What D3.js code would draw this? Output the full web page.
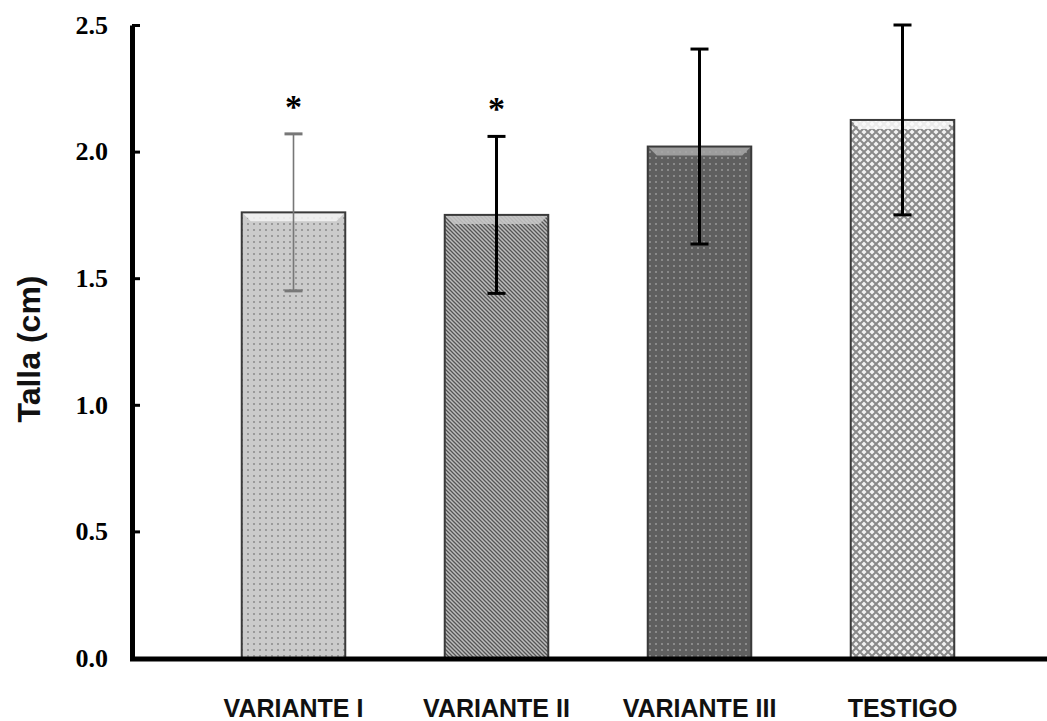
<!DOCTYPE html>
<html>
<head>
<meta charset="utf-8">
<script src="https://cdn.jsdelivr.net/npm/d3@7"></script>
<style>
  body { margin: 0; background: #fff; }
</style>
</head>
<body>
<div id="chart"></div>
<script>
// data
var categories = ['VARIANTE I', 'VARIANTE II', 'VARIANTE III', 'TESTIGO']
var means = [1.76, 1.75, 2.02, 2.125]
var errors = [0.31, 0.31, 0.385, 0.375]
var marks = ['*', '*', '', '']
var yTicks = [0, 0.5, 1.0, 1.5, 2.0, 2.5]

var svgWidth = 1047
var svgHeight = 721

var svg = d3.select('#chart')
  .append('svg')
  .attr('width', svgWidth)
  .attr('height', svgHeight)

var defs = svg.append('defs')

// fill patterns, one per bar
function dotPattern (id, bg, dot, size, r) {
  var p = defs.append('pattern')
    .attr('id', id)
    .attr('patternUnits', 'userSpaceOnUse')
    .attr('width', size)
    .attr('height', size)
  p.append('rect').attr('width', size).attr('height', size).attr('fill', bg)
  p.append('rect').attr('x', 1).attr('y', 1).attr('width', r).attr('height', r).attr('fill', dot)
}
dotPattern('pat0', '#cbcbcb', '#9a9a9a', 6, 2)
dotPattern('pat2', '#5f5f5f', '#8a8a8a', 6, 2)

var hatch = defs.append('pattern')
  .attr('id', 'pat1')
  .attr('patternUnits', 'userSpaceOnUse')
  .attr('width', 4)
  .attr('height', 4)
hatch.append('rect').attr('width', 4).attr('height', 4).attr('fill', '#bdbdbd')
hatch.append('path').attr('d', 'M-1,1 L1,-1 M0,4 L4,0 M3,5 L5,3')
  .attr('stroke', '#555').attr('stroke-width', 1.3)
  .attr('transform', 'scale(-1,1) translate(-4,0)')

var cross = defs.append('pattern')
  .attr('id', 'pat3')
  .attr('patternUnits', 'userSpaceOnUse')
  .attr('width', 8)
  .attr('height', 8)
cross.append('rect').attr('width', 8).attr('height', 8).attr('fill', '#f2f2f2')
cross.append('path').attr('d', 'M0,0 L8,8 M8,0 L0,8')
  .attr('stroke', '#8a8a8a').attr('stroke-width', 2)

var fills = ['url(#pat0)', 'url(#pat1)', 'url(#pat2)', 'url(#pat3)']
var bevels = ['#f4f4f4', '#c8c8c8', '#a8a8a8', '#fafafa']

var xScale = d3.scaleBand()
  .domain(categories)
  .range([192, 1004])
  .paddingInner(0.49)
  .paddingOuter(0.245)

var yScale = d3.scaleLinear()
  .domain([0, 2.5])
  .range([658, 25])

var data = categories.map(function (c, i) {
  return { cat: c, mean: means[i], err: errors[i], mark: marks[i], i: i }
})

// bars
var bars = svg.append('g').selectAll('g.bar')
  .data(data)
  .enter()
  .append('g')
  .attr('class', 'bar')

bars.append('rect')
  .attr('x', d => xScale(d.cat))
  .attr('y', d => yScale(d.mean))
  .attr('width', xScale.bandwidth())
  .attr('height', d => yScale(0) - yScale(d.mean))
  .attr('fill', d => fills[d.i])

// light bevel at the top of each bar
bars.append('path')
  .attr('d', function (d) {
    var x0 = xScale(d.cat), x1 = x0 + xScale.bandwidth(), y0 = yScale(d.mean)
    return 'M' + x0 + ',' + y0 + 'L' + x1 + ',' + y0 + 'L' + (x1 - 9) + ',' + (y0 + 9) + 'L' + (x0 + 9) + ',' + (y0 + 9) + 'Z'
  })
  .attr('fill', d => bevels[d.i])
  .attr('opacity', 0.85)

bars.append('rect')
  .attr('x', d => xScale(d.cat))
  .attr('y', d => yScale(d.mean))
  .attr('width', xScale.bandwidth())
  .attr('height', d => yScale(0) - yScale(d.mean))
  .attr('fill', 'none')
  .attr('stroke', '#3a3a3a')
  .attr('stroke-width', 2)

// error bars
var eb = svg.append('g').selectAll('g.err')
  .data(data)
  .enter()
  .append('g')
  .attr('stroke', d => d.i === 0 ? '#777' : '#000')
  .attr('stroke-width', d => d.i === 0 ? 1.6 : 3)

eb.append('line')
  .attr('x1', d => xScale(d.cat) + xScale.bandwidth() / 2)
  .attr('x2', d => xScale(d.cat) + xScale.bandwidth() / 2)
  .attr('y1', d => yScale(d.mean + d.err))
  .attr('y2', d => yScale(d.mean - d.err))

eb.append('line')
  .attr('x1', d => xScale(d.cat) + xScale.bandwidth() / 2 - 9)
  .attr('x2', d => xScale(d.cat) + xScale.bandwidth() / 2 + 9)
  .attr('y1', d => yScale(d.mean + d.err))
  .attr('y2', d => yScale(d.mean + d.err))
  .attr('stroke-width', 3)

eb.append('line')
  .attr('x1', d => xScale(d.cat) + xScale.bandwidth() / 2 - 9)
  .attr('x2', d => xScale(d.cat) + xScale.bandwidth() / 2 + 9)
  .attr('y1', d => yScale(d.mean - d.err))
  .attr('y2', d => yScale(d.mean - d.err))
  .attr('stroke-width', 3)

// significance marks
svg.append('g').selectAll('text')
  .data(data.filter(d => d.mark))
  .enter()
  .append('text')
  .attr('x', d => xScale(d.cat) + xScale.bandwidth() / 2)
  .attr('y', d => yScale(d.mean + d.err) - 16)
  .attr('text-anchor', 'middle')
  .attr('font-family', 'Liberation Serif, serif')
  .attr('font-weight', 'bold')
  .attr('font-size', '34px')
  .text(d => d.mark)

// y axis with inward ticks
var leftAxis = d3.axisLeft(yScale)
  .tickValues(yTicks)
  .tickFormat(d3.format('.1f'))
  .tickSizeInner(-8)
  .tickSizeOuter(0)
  .tickPadding(24)

var yAxis = svg.append('g')
  .attr('transform', 'translate(132,0)')
  .call(leftAxis)
yAxis.select('.domain').attr('stroke', '#000').attr('stroke-width', 5)
yAxis.selectAll('.tick line').attr('stroke', '#000').attr('stroke-width', 3)
yAxis.selectAll('.tick text')
  .attr('font-family', 'Liberation Serif, serif')
  .attr('font-weight', 'bold')
  .attr('font-size', '26px')
  .attr('fill', '#000')

// x axis line
svg.append('line')
  .attr('x1', 130)
  .attr('x2', 1047)
  .attr('y1', yScale(0) + 1)
  .attr('y2', yScale(0) + 1)
  .attr('stroke', '#000')
  .attr('stroke-width', 5)

// category labels
svg.append('g').selectAll('text')
  .data(categories)
  .enter()
  .append('text')
  .attr('x', d => xScale(d) + xScale.bandwidth() / 2)
  .attr('y', 717)
  .attr('text-anchor', 'middle')
  .attr('font-family', 'Liberation Sans, Arial, sans-serif')
  .attr('font-weight', 'bold')
  .attr('font-size', '25px')
  .attr('fill', '#111')
  .text(d => d)

// y axis title
svg.append('text')
  .attr('transform', 'translate(40,349) rotate(-90)')
  .attr('text-anchor', 'middle')
  .attr('font-family', 'Liberation Sans, Arial, sans-serif')
  .attr('font-weight', 'bold')
  .attr('font-size', '32px')
  .attr('fill', '#111')
  .text('Talla (cm)')
</script>
</body>
</html>
